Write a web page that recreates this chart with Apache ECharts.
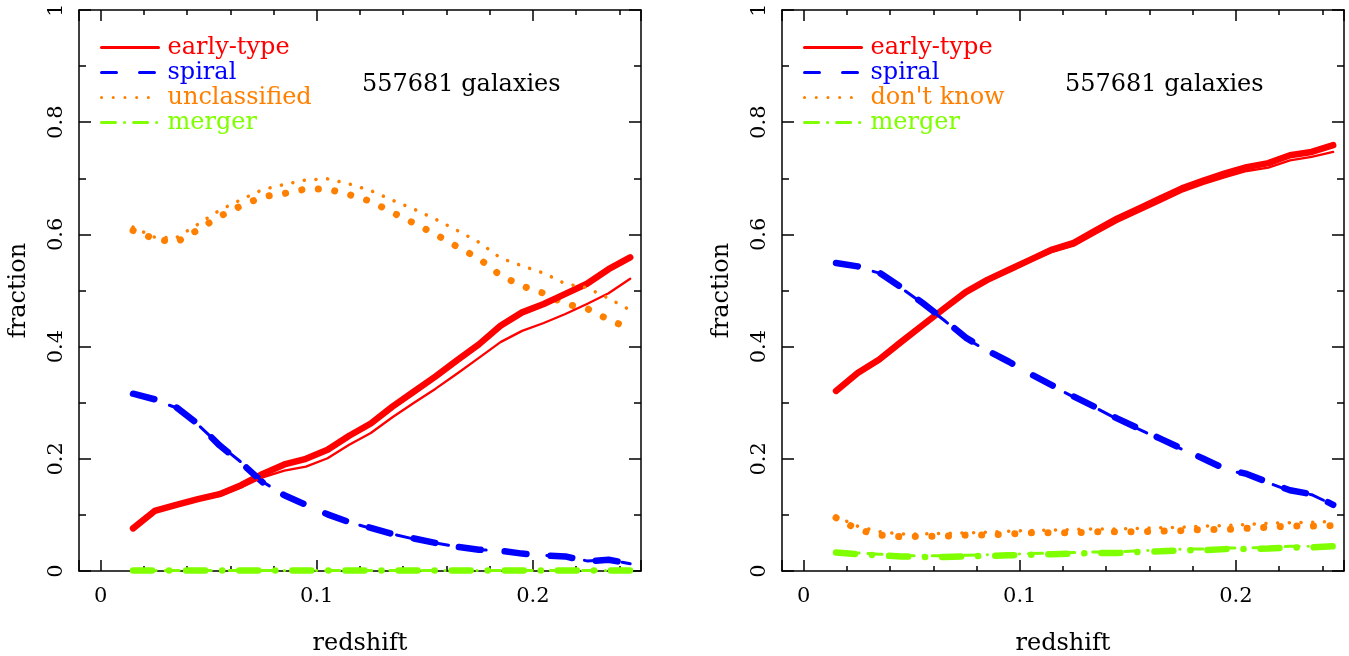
<!DOCTYPE html>
<html><head><meta charset="utf-8">
<script src="https://cdn.jsdelivr.net/npm/echarts@6/dist/echarts.min.js"></script>
<style>html,body{margin:0;padding:0;background:#fff}#c{width:1349px;height:656px}</style>
</head><body><div id="c"></div>
<script>
// ---------- data ----------
const redshift = [0.015,0.025,0.035,0.045,0.055,0.065,0.075,0.085,0.095,0.105,0.115,0.125,
                  0.135,0.145,0.155,0.165,0.175,0.185,0.195,0.205,0.215,0.225,0.235,0.245];
const xTickLabels = ['0','0.1','0.2'];
const yTickLabels = ['0','0.2','0.4','0.6','0.8','1'];
const galaxiesText = '557681 galaxies';

// left panel
const L_earlyThick = [0.076,0.107,0.118,0.128,0.137,0.153,0.173,0.190,0.200,0.216,0.241,0.263,
                      0.293,0.320,0.347,0.376,0.404,0.437,0.461,0.476,0.494,0.512,0.538,0.559];
const L_earlyThin  = [0.076,0.106,0.117,0.126,0.134,0.149,0.167,0.179,0.186,0.201,0.225,0.246,
                      0.274,0.300,0.325,0.352,0.380,0.408,0.428,0.442,0.458,0.476,0.495,0.521];
const L_spiralThick = [0.316,0.306,0.292,0.262,0.224,0.193,0.158,0.135,0.118,0.101,0.087,0.077,
                       0.066,0.058,0.050,0.043,0.038,0.036,0.031,0.028,0.026,0.017,0.020,0.013];
const L_spiralThin  = [0.315,0.305,0.291,0.261,0.225,0.194,0.159,0.135,0.118,0.101,0.087,0.076,
                       0.066,0.057,0.050,0.043,0.038,0.036,0.031,0.028,0.026,0.018,0.020,0.013];
const L_unclThick = [0.607,0.592,0.586,0.608,0.632,0.651,0.667,0.673,0.681,0.681,0.671,0.659,
                     0.639,0.620,0.600,0.578,0.557,0.527,0.508,0.495,0.476,0.468,0.448,0.432];
const L_unclThin  = [0.613,0.595,0.594,0.618,0.643,0.662,0.680,0.689,0.697,0.699,0.690,0.678,
                     0.661,0.645,0.627,0.607,0.586,0.558,0.544,0.531,0.512,0.505,0.486,0.465];
const L_mergerThick = [0.001,0.001,0.001,0.001,0.001,0.001,0.001,0.001,0.001,0.001,0.001,0.001,
                       0.001,0.001,0.001,0.001,0.001,0.001,0.001,0.001,0.001,0.001,0.001,0.001];
const L_mergerThin  = [0.001,0.001,0.001,0.001,0.001,0.001,0.001,0.001,0.001,0.001,0.001,0.001,
                       0.001,0.001,0.001,0.001,0.001,0.001,0.001,0.001,0.001,0.001,0.001,0.001];

// right panel
const R_earlyThick = [0.321,0.353,0.377,0.408,0.438,0.468,0.497,0.519,0.537,0.555,0.573,0.585,
                      0.607,0.628,0.646,0.664,0.682,0.696,0.709,0.720,0.727,0.741,0.747,0.759];
const R_earlyThin  = [0.320,0.351,0.375,0.406,0.436,0.466,0.495,0.516,0.534,0.552,0.569,0.580,
                      0.601,0.622,0.640,0.658,0.676,0.690,0.702,0.713,0.719,0.732,0.738,0.747];
const R_spiralThick = [0.549,0.543,0.532,0.506,0.478,0.448,0.416,0.393,0.373,0.351,0.331,0.311,
                       0.292,0.272,0.254,0.236,0.218,0.200,0.182,0.173,0.158,0.144,0.137,0.118];
const R_spiralThin  = [0.548,0.542,0.531,0.505,0.477,0.447,0.415,0.392,0.372,0.350,0.330,0.310,
                       0.291,0.271,0.253,0.235,0.217,0.199,0.181,0.172,0.157,0.143,0.136,0.118];
const R_dkThick = [0.095,0.074,0.064,0.061,0.062,0.062,0.064,0.064,0.066,0.068,0.068,0.068,
                   0.070,0.070,0.070,0.071,0.072,0.074,0.074,0.076,0.078,0.080,0.080,0.081];
const R_dkThin  = [0.097,0.080,0.070,0.066,0.066,0.067,0.068,0.069,0.071,0.072,0.073,0.074,
                   0.075,0.075,0.076,0.077,0.078,0.080,0.081,0.083,0.085,0.086,0.087,0.088];
const R_mergerThick = [0.033,0.030,0.028,0.026,0.025,0.025,0.026,0.027,0.028,0.029,0.030,0.031,
                       0.032,0.032,0.034,0.035,0.037,0.037,0.039,0.039,0.040,0.042,0.042,0.044];
const R_mergerThin  = [0.035,0.032,0.030,0.028,0.027,0.027,0.028,0.029,0.030,0.031,0.032,0.033,
                       0.034,0.034,0.036,0.037,0.039,0.039,0.041,0.041,0.042,0.044,0.044,0.046];

// ---------- styles ----------
const F = 'DejaVu Serif';
const RED = '#ff0000', BLUE = '#0000ff', ORANGE = '#ff8000', GREEN = '#80ff00';
const styles = {
  earlyThin:  {color: RED, width: 2.3, type: 'solid'},
  earlyThick: {color: RED, width: 6.5, type: 'solid'},
  spiralThin: {color: BLUE, width: 3, type: [15, 23]},
  spiralThick:{color: BLUE, width: 6.5, type: [22, 24]},
  unclThin:   {color: ORANGE, width: 3.5, type: [0.1, 11.6]},
  unclThick:  {color: ORANGE, width: 7, type: [0.1, 16.5]},
  mergThin:   {color: GREEN, width: 3, type: [14, 9, 0.1, 9]},
  mergThick:  {color: GREEN, width: 6.5, type: [19, 17, 0.1, 17]}
};

function pairs(vals) { return redshift.map((z, i) => [z, vals[i]]); }
function line(name, g, vals, st, z) {
  return {
    type: 'line', name: name, xAxisIndex: g * 4, yAxisIndex: g * 2,
    data: pairs(vals), showSymbol: false, symbol: 'none', smooth: false, z: z,
    clip: false, silent: true,
    lineStyle: {color: st.color, width: st.width, type: st.type, cap: 'round', join: 'round'},
    itemStyle: {color: st.color}
  };
}

const axisColor = '#000';
function xLabelFmt(v) {
  const t = v * 10;
  if (Math.abs(t - Math.round(t)) < 1e-6) {
    const k = Math.round(t);
    if (k >= 0 && k < xTickLabels.length) return xTickLabels[k];
  }
  return '';
}
function xAxes(g) {
  const base = {gridIndex: g, type: 'value', min: -0.01, max: 0.25, splitLine: {show: false}};
  const lineOn = {show: true, onZero: false, lineStyle: {color: axisColor, width: 1.5}};
  const lineOff = {show: false, onZero: false};
  const majTick = {show: true, inside: true, length: 11, lineStyle: {color: axisColor, width: 1.5}};
  const minTick = {show: true, inside: true, length: 5, lineStyle: {color: axisColor, width: 1.5}};
  return [
    Object.assign({}, base, {position: 'bottom', minInterval: 0.1, maxInterval: 0.1, splitNumber: 3,
      axisLine: lineOn, axisTick: majTick,
      axisLabel: {show: true, formatter: xLabelFmt, margin: 15, fontSize: 21, fontFamily: F, color: '#000'},
      name: 'redshift', nameLocation: 'middle', nameGap: 61,
      nameTextStyle: {fontSize: 24, fontFamily: F, color: '#000'}}),
    Object.assign({}, base, {position: 'top', minInterval: 0.1, maxInterval: 0.1, splitNumber: 3,
      axisLine: lineOn, axisTick: majTick, axisLabel: {show: false}}),
    Object.assign({}, base, {position: 'bottom', minInterval: 0.02, maxInterval: 0.02, splitNumber: 13,
      axisLine: lineOff, axisTick: minTick, axisLabel: {show: false}}),
    Object.assign({}, base, {position: 'top', minInterval: 0.02, maxInterval: 0.02, splitNumber: 13,
      axisLine: lineOff, axisTick: minTick, axisLabel: {show: false}})
  ];
}
function yAxes(g) {
  const base = {gridIndex: g, type: 'value', min: 0, max: 1, interval: 0.2, splitLine: {show: false},
    axisLine: {show: true, onZero: false, lineStyle: {color: axisColor, width: 1.5}},
    axisTick: {show: true, inside: true, length: 12, lineStyle: {color: axisColor, width: 1.5}},
    minorTick: {show: true, splitNumber: 2, length: 7, lineStyle: {color: axisColor, width: 1.5}}};
  return [
    Object.assign({}, base, {position: 'left',
      axisLabel: {show: true, rotate: 90, margin: 12, fontSize: 21, fontFamily: F, color: '#000',
        formatter: v => { const k = Math.round(v * 5); return (Math.abs(v * 5 - k) < 1e-6) ? yTickLabels[k] : ''; }},
      name: 'fraction', nameLocation: 'middle', nameGap: 48, nameRotate: 90,
      nameTextStyle: {fontSize: 24, fontFamily: F, color: '#000'}}),
    Object.assign({}, base, {position: 'right', axisLabel: {show: false}})
  ];
}

function legend(g, left, names, colors) {
  return {
    orient: 'vertical', left: left, top: 35, padding: 0, itemGap: 0,
    itemWidth: 57, itemHeight: 14, selectedMode: false,
    lineStyle: {width: 3},
    itemStyle: {opacity: 0},
    textStyle: {fontFamily: F, fontSize: 24, lineHeight: 25, padding: [0, 0, 0, 4]},
    data: names.map((n, i) => ({name: n, textStyle: {color: colors[i]}}))
  };
}

const series = [
  // left panel (thin first so legend icons use thin style)
  line('early-type', 0, L_earlyThin, styles.earlyThin, 4),
  line('spiral', 0, L_spiralThin, styles.spiralThin, 4),
  line('unclassified', 0, L_unclThin, styles.unclThin, 4),
  line('merger', 0, L_mergerThin, styles.mergThin, 4),
  line('unclassified', 0, L_unclThick, styles.unclThick, 3),
  line('early-type', 0, L_earlyThick, styles.earlyThick, 3),
  line('spiral', 0, L_spiralThick, styles.spiralThick, 3),
  line('merger', 0, L_mergerThick, styles.mergThick, 3),
  // right panel
  line('early-type', 1, R_earlyThin, styles.earlyThin, 4),
  line('spiral', 1, R_spiralThin, styles.spiralThin, 4),
  line("don't know", 1, R_dkThin, styles.unclThin, 4),
  line('merger', 1, R_mergerThin, styles.mergThin, 4),
  line("don't know", 1, R_dkThick, styles.unclThick, 3),
  line('early-type', 1, R_earlyThick, styles.earlyThick, 3),
  line('spiral', 1, R_spiralThick, styles.spiralThick, 3),
  line('merger', 1, R_mergerThick, styles.mergThick, 3)
];

const option = {
  animation: false,
  backgroundColor: '#fff',
  grid: [
    {left: 79, top: 10, width: 562, height: 561, containLabel: false, outerBoundsMode: 'none'},
    {left: 782, top: 10, width: 562, height: 561, containLabel: false, outerBoundsMode: 'none'}
  ],
  title: [
    {text: galaxiesText, left: 362, top: 73, padding: 0,
     textStyle: {fontFamily: F, fontSize: 24, fontWeight: 'normal', color: '#000'}},
    {text: galaxiesText, left: 1065, top: 73, padding: 0,
     textStyle: {fontFamily: F, fontSize: 24, fontWeight: 'normal', color: '#000'}}
  ],
  legend: [
    legend(0, 100, ['early-type', 'spiral', 'unclassified', 'merger'], [RED, BLUE, ORANGE, GREEN]),
    legend(1, 803, ['early-type', 'spiral', "don't know", 'merger'], [RED, BLUE, ORANGE, GREEN])
  ],
  xAxis: xAxes(0).concat(xAxes(1)),
  yAxis: yAxes(0).concat(yAxes(1)),
  series: series
};

const chart = echarts.init(document.getElementById('c'), null, {renderer: 'canvas'});
chart.setOption(option);
</script>
</body></html>
